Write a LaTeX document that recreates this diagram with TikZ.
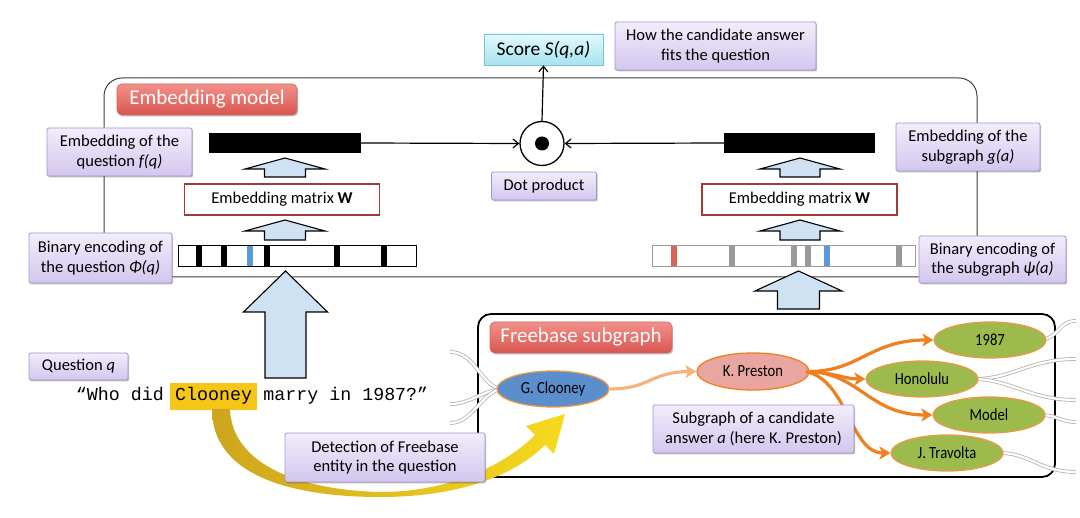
\documentclass[tikz,border=0pt]{standalone}
\usepackage{fontspec}
\setmainfont{Carlito}
\newfontfamily\qfont{Liberation Mono}
\newfontfamily\entfont[FakeStretch=0.86]{Carlito}
\usetikzlibrary{shapes.geometric,arrows.meta,shadows}
\definecolor{lavtop}{HTML}{F2EDFB}
\definecolor{lavbot}{HTML}{D3C6EE}
\definecolor{lavdraw}{HTML}{A494CC}
\definecolor{redtop}{HTML}{F2918A}
\definecolor{redbot}{HTML}{D95550}
\definecolor{reddraw}{HTML}{D06A66}
\definecolor{cyantop}{HTML}{E4F9FD}
\definecolor{cyanbot}{HTML}{A6E3EF}
\definecolor{cyandraw}{HTML}{79C3D3}
\definecolor{matred}{HTML}{A33A3A}
\definecolor{arrowblue}{HTML}{CFE2F3}
\definecolor{markblue}{HTML}{5B9BD5}
\definecolor{markred}{HTML}{D9625A}
\definecolor{markgray}{HTML}{9A9A9A}
\definecolor{hl}{HTML}{F5C518}
\definecolor{goldL}{HTML}{CDA51E}
\definecolor{goldR}{HTML}{F6D91E}
\definecolor{gcblue}{HTML}{5B8FCC}
\definecolor{kppink}{HTML}{E9A6A0}
\definecolor{greenent}{HTML}{9DBB4C}
\definecolor{orborder}{HTML}{E99A48}
\definecolor{orarrow}{HTML}{F07F1F}
\definecolor{orlight}{HTML}{F5B47C}
\definecolor{framegray}{HTML}{404040}
\definecolor{fringe}{HTML}{B8B0B0}
\newcommand\lblfont{\fontsize{16.5}{19.5}\selectfont}
\newcommand\hollowup[6]{%
  \draw[harrow] (#1-#6,#4) -- (#1-#6,#3) -- (#1-#5,#3) -- (#1,#2) -- (#1+#5,#3) -- (#1+#6,#3) -- (#1+#6,#4) -- cycle;}
\tikzset{
  lab/.style={draw=lavdraw, line width=0.8pt, top color=lavtop, bottom color=lavbot,
    rounded corners=1.5pt, align=center, font=\lblfont, inner sep=2pt,
    drop shadow={shadow xshift=1.2pt, shadow yshift=-1.5pt, opacity=0.25, fill=black}},
  redlab/.style={draw=reddraw, line width=0.8pt, top color=redtop, bottom color=redbot,
    rounded corners=5pt, text=white, font=\fontsize{21}{24}\selectfont, inner sep=2pt,
    drop shadow={shadow xshift=1.2pt, shadow yshift=-1.5pt, opacity=0.25, fill=black}},
  scorebox/.style={draw=cyandraw, line width=0.8pt, top color=cyantop, bottom color=cyanbot,
    font=\fontsize{19.5}{22}\selectfont, inner sep=2pt,
    drop shadow={shadow xshift=1.2pt, shadow yshift=-1.5pt, opacity=0.25, fill=black}},
  matbox/.style={draw=matred, line width=1.3pt, fill=white, font=\lblfont, inner sep=2pt},
  harrow/.style={fill=arrowblue, draw=black, line width=1.1pt, line join=miter},
  ent/.style={ellipse, draw=orborder, line width=1.3pt, minimum width=112pt,
    minimum height=36pt, inner sep=0pt, font=\entfont\fontsize{17}{19}\selectfont},
  fr/.style={draw=fringe, line width=0.8pt, double=white, double distance=2.2pt},
  thinarrow/.style={-{Straight Barb[length=5.5pt,width=9pt]}, line width=1.2pt},
  orar/.style={-{Stealth[length=11pt,width=13pt,inset=3pt]}, line width=3.2pt},
  qtext/.style={font=\qfont\fontsize{18.3}{20}\selectfont, inner sep=0pt}
}
\begin{document}
\begin{tikzpicture}[x=1pt,y=-1pt]
\useasboundingbox (0,0) rectangle (1080,518);
\fill[white] (0,0) rectangle (1080,518);

% frames
\draw[framegray, line width=1pt, rounded corners=18pt] (104,78) rectangle (977,277);
\draw[black, line width=1.8pt, rounded corners=13pt] (478,314) rectangle (1055,477);

% score and dot product
\node[scorebox, minimum width=119pt, minimum height=31pt] (score) at (543.5,49.5) {Score \textit{S(q,a)}};
\node[lab, minimum width=201pt, minimum height=48pt] (how) at (715.5,46) {How the candidate answer\\fits the question};
\node[circle, draw, line width=1.3pt, minimum size=44pt, inner sep=0pt, fill=white] (dp) at (542,143.5) {};
\fill (dp.center) circle (7);
\node[lab, minimum width=105pt, minimum height=28pt] (dpl) at (544,186) {Dot product};

% embedding bars
\node[fill=black, minimum width=152pt, minimum height=20pt, inner sep=0pt] (fq) at (285,143) {};
\node[fill=black, minimum width=151pt, minimum height=20pt, inner sep=0pt] (ga) at (799.5,143) {};
\draw[thinarrow] (fq.east) -- (dp.west);
\draw[thinarrow] (ga.west) -- (dp.east);
\draw[thinarrow] (dp.north) -- (score.south);

% matrices
\node[matbox, minimum width=195pt, minimum height=31pt] (wl) at (282,199.5) {Embedding matrix \textbf{W}};
\node[matbox, minimum width=195pt, minimum height=31pt] (wr) at (799.5,199.5) {Embedding matrix \textbf{W}};

% small hollow arrows
\hollowup{285}{158}{169}{177}{40}{20.5}
\hollowup{285}{220}{231}{240}{40}{20.5}
\hollowup{800}{158}{169}{177}{40}{20}
\hollowup{800}{220}{231}{240}{40}{20}

% binary bars
\node[fill=white, minimum width=237pt, minimum height=20pt, inner sep=0pt] (bq) at (297.5,256) {};
\fill (195.5,246) rectangle (201.5,266);
\fill (221,246) rectangle (227,266);
\fill[markblue] (247,246) rectangle (253,266);
\fill (263.5,246) rectangle (269.5,266);
\fill (333.5,246) rectangle (339.5,266);
\fill (381,246) rectangle (387,266);
\draw[line width=1.2pt] (bq.south west) rectangle (bq.north east);

\node[fill=white, minimum width=262pt, minimum height=20pt, inner sep=0pt] (ba) at (784,256) {};
\fill[markred] (670.5,246) rectangle (676.5,266);
\fill[markgray] (729,246) rectangle (735,266);
\fill[markgray] (791,246) rectangle (797,266);
\fill[markgray] (805,246) rectangle (811,266);
\fill[markblue] (824,246) rectangle (830,266);
\fill[markgray] (895.5,246) rectangle (901.5,266);
\draw[markgray, line width=1.2pt] (ba.south west) rectangle (ba.north east);

% big hollow arrows
\hollowup{285.5}{271}{312}{378}{42}{20.5}
\hollowup{798.5}{271}{291}{309}{43.5}{21}

% side labels
\node[redlab, minimum width=180pt, minimum height=31pt] (emlab) at (207,99.5) {Embedding model};
\node[lab, minimum width=145pt, minimum height=48pt] (embq) at (119.5,152) {Embedding of the\\question \textit{f(q)}};
\node[lab, minimum width=143pt, minimum height=50pt] (binq) at (100.5,258) {Binary encoding of\\the question \textit{Φ(q)}};
\node[lab, minimum width=144pt, minimum height=48pt] (embg) at (968,147) {Embedding of the\\subgraph \textit{g(a)}};
\node[lab, minimum width=147pt, minimum height=47pt] (bing) at (992.5,259.5) {Binary encoding of\\the subgraph \textit{ψ(a)}};

% question
\node[lab, minimum width=99pt, minimum height=27pt] (ql) at (78.5,366.5) {Question \textit{q}};
\node[qtext, fill=hl, inner xsep=5pt, inner ysep=5pt, anchor=base west] (cl) at (170,401) {Clooney};
\node[qtext, anchor=base east] (q1) at ([xshift=-6pt]cl.base west) {“Who did};
\node[qtext, anchor=base west] (q2) at ([xshift=6pt]cl.base east) {marry in 1987?”};

% fringe end points
\coordinate (l1) at (450,352);
\coordinate (l2) at (450,404);
\coordinate (l3) at (450,423);
\coordinate (r1) at (1076,321);
\coordinate (r2) at (1076,359);
\coordinate (r3) at (1076,400);
\coordinate (r4) at (1076,422);
\coordinate (r5) at (1076,472);

% fringe lines (behind entities)
\draw[fr] (l1) .. controls (475,352) and (480,384) .. (500,389);
\draw[fr] (l2) .. controls (470,404) and (480,392) .. (500,389);
\draw[fr] (l3) .. controls (472,423) and (480,395) .. (500,389);
\draw[fr] (1040,340) .. controls (1060,338) and (1058,321) .. (r1);
\draw[fr] (975,379) .. controls (1012,379) and (1030,359) .. (r2);
\draw[fr] (975,379) .. controls (1012,380) and (1030,400) .. (r3);
\draw[fr] (1040,415) .. controls (1058,415) and (1060,422) .. (r4);
\draw[fr] (1000,453) .. controls (1030,453) and (1040,472) .. (r5);

% entities
\node[ent, fill=gcblue] (gc) at (553,389) {G. Clooney};
\node[ent, fill=kppink, draw=orarrow, minimum height=37pt] (kp) at (753,371.5) {K. Preston};
\node[ent, fill=greenent] (y87) at (990,340) {1987};
\node[ent, fill=greenent] (hon) at (922,379) {Honolulu};
\node[ent, fill=greenent] (mod) at (989,415) {Model};
\node[ent, fill=greenent] (jt) at (947,453) {J. Travolta};

% graph arrows
\draw[orar, orlight] (gc.east) .. controls (650,389) and (650,372) .. (kp.west);
\draw[orar, orarrow] (kp.east) .. controls (860,371) and (870,340) .. (y87.west);
\draw[orar, orarrow] (kp.east) .. controls (830,372) and (845,379) .. (hon.west);
\draw[orar, orarrow] (kp.east) .. controls (860,374) and (870,415) .. (mod.west);
\draw[orar, orarrow] ([xshift=-4pt]kp.east) .. controls (848,380) and (850,453) .. (jt.west);

\node[redlab, minimum width=182pt, minimum height=31pt] (fblab) at (581,337.5) {Freebase subgraph};
\node[lab, minimum width=201pt, minimum height=48pt] (sgl) at (753.5,429) {Subgraph of a candidate\\answer \textit{a} (here K. Preston)};

% yellow detection arrow
\shade[left color=goldL, right color=goldR]
  (212,409) .. controls (212,475) and (290,497) .. (380,497)
  .. controls (460,497) and (515,475) .. (545,445)
  -- (554,454) -- (565,414) -- (526,426) -- (535,435)
  .. controls (505,465) and (450,492) .. (380,492)
  .. controls (300,490) and (232,465) .. (230,409) -- cycle;
\node[lab, minimum width=200pt, minimum height=49pt] (det) at (385,457.5) {Detection of Freebase\\entity in the question};
\end{tikzpicture}
\end{document}
